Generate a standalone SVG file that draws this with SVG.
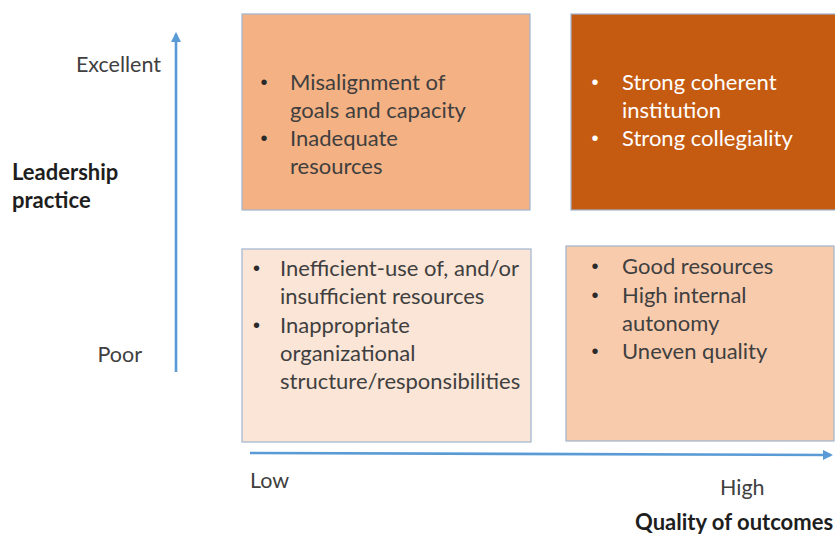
<svg xmlns="http://www.w3.org/2000/svg" width="835" height="537" viewBox="0 0 835 537">
  <style>
    .box { stroke: #9FB4CF; stroke-width: 1.2; }
    .txt { font-family: Lato, "Open Sans", "Liberation Sans", sans-serif; font-size: 22px; fill: #3F3F3F; }
    .dot { font-family: "Liberation Sans", sans-serif; font-size: 20px; fill: #2A2A2A; }
    .lbl { font-family: Lato, "Open Sans", "Liberation Sans", sans-serif; font-size: 21.5px; fill: #404040; }
    .ttl { font-family: Lato, "Open Sans", "Liberation Sans", sans-serif; font-size: 22px; font-weight: bold; fill: #1E1E1E; }
    .wht { fill: #FFFFFF; }
    .axis { stroke: #5B9BD5; stroke-width: 2.6; fill: none; }
  </style>
  <defs>
    <marker id="arrow" viewBox="0 0 10 10" refX="8" refY="5" markerWidth="4" markerHeight="4" orient="auto">
      <path d="M0,0 L10,5 L0,10 z" fill="#5B9BD5"/>
    </marker>
  </defs>

  <rect width="835" height="537" fill="#FFFFFF"/>

  <!-- axes -->
  <g id="connectors">
    <line class="axis" x1="176" y1="372" x2="176" y2="34" marker-end="url(#arrow)"/>
    <line class="axis" x1="250" y1="453" x2="831" y2="455" marker-end="url(#arrow)"/>
  </g>

  <!-- axis labels -->
  <g id="axis-labels">
    <text class="lbl" x="161" y="72" text-anchor="end">Excellent</text>
    <text class="lbl" x="142" y="362" text-anchor="end">Poor</text>
    <text class="ttl" x="12" y="180">Leadership</text>
    <text class="ttl" x="12" y="208">practice</text>
    <text class="lbl" x="250" y="488">Low</text>
    <text class="lbl" x="720" y="495">High</text>
    <text class="ttl" x="635" y="530">Quality of outcomes</text>
  </g>

  <!-- excellent leadership, low quality -->
  <g id="q-top-left">
    <rect class="box" x="242" y="14" width="288" height="196" fill="#F4B183"/>
    <text class="dot" x="260.5" y="89">•</text>
    <text class="txt" x="290" y="90">Misalignment of</text>
    <text class="txt" x="290" y="118">goals and capacity</text>
    <text class="dot" x="260.5" y="145">•</text>
    <text class="txt" x="290" y="146">Inadequate</text>
    <text class="txt" x="290" y="174">resources</text>
  </g>

  <!-- excellent leadership, high quality -->
  <g id="q-top-right">
    <rect class="box" x="571" y="14" width="270" height="196" fill="#C55A11"/>
    <text class="dot wht" x="591.5" y="89">•</text>
    <text class="txt wht" x="622" y="90">Strong coherent</text>
    <text class="txt wht" x="622" y="118">institution</text>
    <text class="dot wht" x="591.5" y="145">•</text>
    <text class="txt wht" x="622" y="146">Strong collegiality</text>
  </g>

  <!-- poor leadership, low quality -->
  <g id="q-bottom-left">
    <rect class="box" x="242" y="249" width="289" height="193" fill="#FBE5D6"/>
    <text class="dot" x="253" y="275">•</text>
    <text class="txt" x="280" y="276">Inefficient-use of, and/or</text>
    <text class="txt" x="280" y="304">insufficient resources</text>
    <text class="dot" x="253" y="332">•</text>
    <text class="txt" x="280" y="333">Inappropriate</text>
    <text class="txt" x="280" y="361">organizational</text>
    <text class="txt" x="280" y="389">structure/responsibilities</text>
  </g>

  <!-- poor leadership, high quality -->
  <g id="q-bottom-right">
    <rect class="box" x="566" y="246" width="268" height="195" fill="#F8CBAD"/>
    <text class="dot" x="591.5" y="273">•</text>
    <text class="txt" x="622" y="274">Good resources</text>
    <text class="dot" x="591.5" y="302">•</text>
    <text class="txt" x="622" y="303">High internal</text>
    <text class="txt" x="622" y="331">autonomy</text>
    <text class="dot" x="591.5" y="358">•</text>
    <text class="txt" x="622" y="359">Uneven quality</text>
  </g>
</svg>
